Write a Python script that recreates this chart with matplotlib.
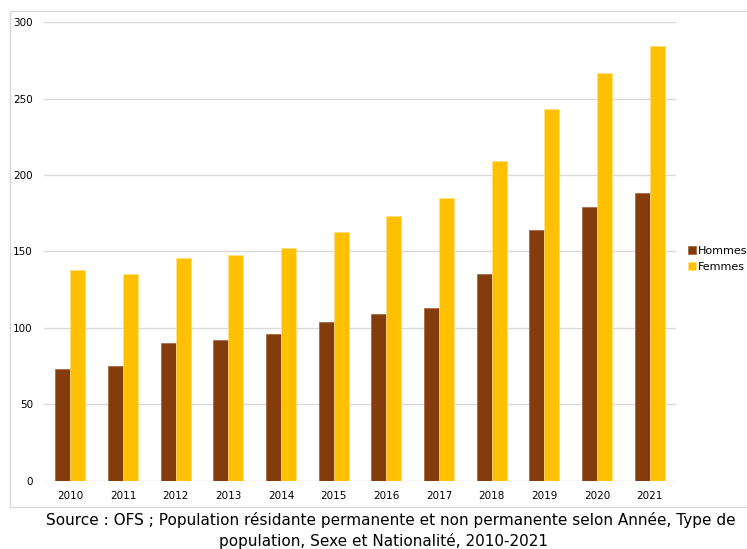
import matplotlib.pyplot as plt
import numpy as np
from matplotlib.patches import Rectangle

years = ['2010', '2011', '2012', '2013', '2014', '2015', '2016', '2017', '2018', '2019', '2020', '2021']
hommes = [73, 75, 90, 92, 96, 104, 109, 113, 135, 164, 179, 188]
femmes = [138, 135, 146, 148, 152, 163, 173, 185, 209, 243, 267, 284]

fig = plt.figure(figsize=(7.47, 5.49), dpi=100)
ax = fig.add_axes([0.0589, 0.1239, 0.846, 0.836])

# frame around the chart block
fig.patches.append(Rectangle((10 / 747, 1 - 507 / 549), 760 / 747, 496 / 549,
                             transform=fig.transFigure, fill=False,
                             edgecolor='#D9D9D9', linewidth=1.0))

x = np.arange(len(years))
w = 0.285
ax.bar(x - w / 2, hommes, w, color='#843C0C', edgecolor='#A0603A', linewidth=0.5, label='Hommes', zorder=3)
ax.bar(x + w / 2, femmes, w, color='#FFC000', edgecolor='#FFE080', linewidth=0.5, label='Femmes', zorder=3)

ax.set_xlim(-0.5, len(years) - 0.5)
ax.set_ylim(0, 300)
ax.set_yticks(range(0, 301, 50))
ax.set_xticks(x)
ax.set_xticklabels(years)
ax.yaxis.grid(True, color='#D9D9D9', linewidth=1.0, zorder=0)
for s in ax.spines.values():
    s.set_visible(False)
ax.tick_params(axis='both', length=0, labelsize=7.5, colors='#000000')
ax.tick_params(axis='y', pad=8)
ax.tick_params(axis='x', pad=7)

ax.legend(loc='center left', bbox_to_anchor=(1.012, 0.484), frameon=False,
          fontsize=8, handlelength=0.7, handleheight=0.7, handletextpad=0.2,
          labelspacing=0.5, borderaxespad=0)

fig.text(0.523, 1 - 520 / 549, 'Source : OFS ; Population résidante permanente et non permanente selon Année, Type de',
         ha='center', va='center', fontsize=11, color='#000000')
fig.text(0.513, 1 - 541 / 549, 'population, Sexe et Nationalité, 2010-2021',
         ha='center', va='center', fontsize=11, color='#000000')

fig.savefig('out.png', dpi=100)
